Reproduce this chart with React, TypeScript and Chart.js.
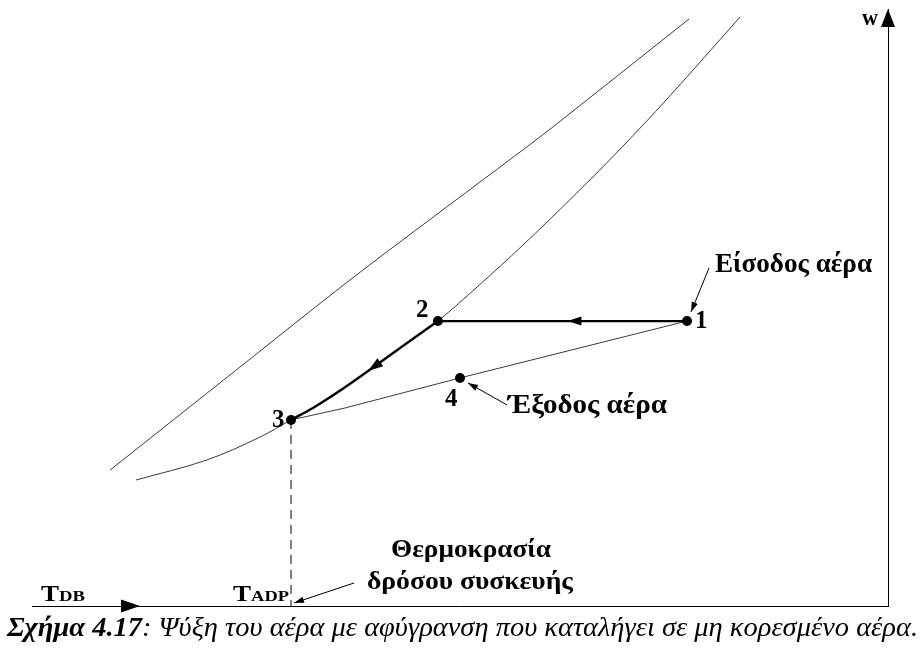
import React, { useEffect, useRef } from "react";
import { Chart, registerables } from "chart.js";

Chart.register(...registerables);

// Axis ranges (dry-bulb temperature, humidity ratio) – schematic units
const T_MIN = 0;
const T_MAX = 50;
const W_MIN = 0;
const W_MAX = 30;

// Upper (outer) thin curve
const upperCurveT = [4.56, 12.15, 18.57, 23.83, 29.67, 32.42, 38.38];
const upperCurveW = [6.83, 12.01, 16.38, 19.8, 23.57, 25.43, 29.5];

// Saturation curve (passes through states 3 and 2)
const satCurveT = [6.07, 10.22, 13.32, 15.13, 16.41, 17.87, 19.63, 21.5, 23.71, 26.05, 28.68, 31.6, 34.23, 37.15, 41.36];
const satCurveW = [6.33, 7.34, 8.49, 9.35, 9.95, 10.75, 11.81, 12.96, 14.32, 16.07, 18.14, 20.57, 22.85, 25.53, 29.6];

// State points
const stateLabels = ["1", "2", "3", "4"];
const stateT = [38.26, 23.71, 15.13, 25.0];
const stateW = [14.32, 14.32, 9.35, 11.46];

// Coil process path 3 -> 2 (drawn thick, along the saturation curve)
const coilT = [15.13, 16.41, 17.87, 19.63, 21.5, 23.71];
const coilW = [9.35, 9.95, 10.75, 11.81, 12.96, 14.32];

// Thin line 3 -> 4 -> 1
const mixT = [15.13, 18.28, 25.0, 38.26];
const mixW = [9.35, 9.95, 11.46, 14.32];

// Texts
const labelInlet = "Είσοδος αέρα";
const labelOutlet = "Έξοδος αέρα";
const labelAdp1 = "Θερμοκρασία";
const labelAdp2 = "δρόσου συσκευής";
const axisXMain = "T";
const axisXSub = "DB";
const adpMain = "T";
const adpSub = "ADP";
const axisYLabel = "w";
const captionBold = "Σχήμα 4.17";
const captionRest = ": Ψύξη του αέρα με αφύγρανση που καταλήγει σε μη κορεσμένο αέρα.";

const zip = (xs: number[], ys: number[]) => xs.map((x, i) => ({ x, y: ys[i] }));

const SERIF = '"Liberation Serif", "DejaVu Serif", serif';

function head(ctx: CanvasRenderingContext2D, tx: number, ty: number, ang: number, len: number, hw: number) {
  const c = Math.cos(ang);
  const s = Math.sin(ang);
  ctx.beginPath();
  ctx.moveTo(tx, ty);
  ctx.lineTo(tx - len * c + hw * s, ty - len * s - hw * c);
  ctx.lineTo(tx - len * c - hw * s, ty - len * s + hw * c);
  ctx.closePath();
  ctx.fill();
}

function fitText(ctx: CanvasRenderingContext2D, s: string, x: number, y: number, font: string, w?: number) {
  ctx.font = font;
  const m = ctx.measureText(s).width;
  const sx = w ? w / m : 1;
  ctx.save();
  ctx.translate(x, y);
  ctx.scale(sx, 1);
  ctx.fillText(s, 0, 0);
  ctx.restore();
}

function pointerArrow(ctx: CanvasRenderingContext2D, x1: number, y1: number, x2: number, y2: number) {
  ctx.save();
  ctx.strokeStyle = "#000";
  ctx.lineWidth = 1;
  ctx.beginPath();
  ctx.moveTo(x1, y1);
  ctx.lineTo(x2, y2);
  ctx.stroke();
  head(ctx, x2, y2, Math.atan2(y2 - y1, x2 - x1), 10, 3.2);
  ctx.restore();
}

const annotations = {
  id: "annotations",
  afterDatasetsDraw(chart: any) {
    const ctx: CanvasRenderingContext2D = chart.ctx;
    const xs = chart.scales.x;
    const ys = chart.scales.y;
    const area = chart.chartArea;
    const px = (t: number) => xs.getPixelForValue(t);
    const py = (w: number) => ys.getPixelForValue(w);
    const P = stateT.map((t, i) => ({ x: px(t), y: py(stateW[i]) }));

    ctx.save();
    ctx.fillStyle = "#000";
    ctx.textAlign = "left";
    ctx.textBaseline = "alphabetic";

    // process arrow 1 -> 2
    const f = 0.48;
    head(ctx, P[0].x + (P[1].x - P[0].x) * f, P[0].y + (P[1].y - P[0].y) * f, Math.PI, 14, 4.5);
    // process arrow 2 -> 3 along coil path
    const a = { x: px(coilT[4]), y: py(coilW[4]) };
    const b = { x: px(coilT[3]), y: py(coilW[3]) };
    head(ctx, b.x, b.y, Math.atan2(b.y - a.y, b.x - a.x), 15, 5);

    // axis arrows
    head(ctx, area.left + 108, area.bottom, 0, 19, 6.5);
    head(ctx, area.right, area.top, -Math.PI / 2, 18, 7);

    // state labels
    const bold25 = `bold 25px ${SERIF}`;
    const off = [
      [8, 7],
      [-22, -4],
      [-19, 7],
      [-15, 28],
    ];
    stateLabels.forEach((s, i) => fitText(ctx, s, P[i].x + off[i][0], P[i].y + off[i][1], bold25));

    // inlet
    pointerArrow(ctx, P[0].x + 22, P[0].y - 53, P[0].x + 4, P[0].y - 9);
    fitText(ctx, labelInlet, P[0].x + 28, P[0].y - 49, `bold 27px ${SERIF}`, 157);
    // outlet
    pointerArrow(ctx, P[3].x + 47, P[3].y + 27, P[3].x + 8, P[3].y + 5);
    fitText(ctx, labelOutlet, P[3].x + 48, P[3].y + 35, `bold 27px ${SERIF}`, 159);

    // apparatus dew point
    const adpX = P[2].x;
    pointerArrow(ctx, adpX + 63, area.bottom - 23, adpX + 3, area.bottom - 3);
    fitText(ctx, labelAdp1, 391, area.bottom - 49, `bold 26px ${SERIF}`, 160);
    fitText(ctx, labelAdp2, 367, area.bottom - 17, `bold 26px ${SERIF}`, 206);
    fitText(ctx, adpMain, adpX - 58, area.bottom - 5, `bold 23px ${SERIF}`, 18);
    fitText(ctx, adpSub, adpX - 40, area.bottom - 5, `bold 15px ${SERIF}`, 38);

    // axis labels
    fitText(ctx, axisXMain, area.left + 9, area.bottom - 5, `bold 23px ${SERIF}`, 18);
    fitText(ctx, axisXSub, area.left + 27, area.bottom - 5, `bold 15px ${SERIF}`, 26);
    fitText(ctx, axisYLabel, area.right - 26, area.top + 16, `bold 24px ${SERIF}`, 16);

    // caption
    const fb = `italic bold 28px ${SERIF}`;
    const fr = `italic 28px ${SERIF}`;
    ctx.font = fb;
    const wb = ctx.measureText(captionBold).width;
    ctx.font = fr;
    const wr = ctx.measureText(captionRest).width;
    const sx = 911 / (wb + wr);
    ctx.save();
    ctx.translate(7, area.bottom + 30);
    ctx.scale(sx, 1);
    ctx.font = fb;
    ctx.fillText(captionBold, 0, 0);
    ctx.font = fr;
    ctx.fillText(captionRest, wb, 0);
    ctx.restore();

    ctx.restore();
  },
};

export default function App() {
  const ref = useRef<HTMLCanvasElement | null>(null);

  useEffect(() => {
    if (!ref.current) return;
    const thin = {
      borderColor: "#3a3a3a",
      borderWidth: 1,
      pointRadius: 0,
      showLine: true,
      fill: false,
      tension: 0.35,
      order: 3,
    };
    const chart = new Chart(ref.current, {
      type: "scatter",
      data: {
        datasets: [
          { label: "states", data: zip(stateT, stateW), pointRadius: 5, pointBackgroundColor: "#000", pointBorderColor: "#000", pointBorderWidth: 0, showLine: false, order: 0 },
          { label: "1-2", data: [{ x: stateT[0], y: stateW[0] }, { x: stateT[1], y: stateW[1] }], borderColor: "#000", borderWidth: 2.2, pointRadius: 0, showLine: true, order: 1 },
          { label: "2-3", data: zip(coilT, coilW), borderColor: "#000", borderWidth: 2.4, pointRadius: 0, showLine: true, tension: 0.35, order: 1 },
          { label: "upper", data: zip(upperCurveT, upperCurveW), ...thin },
          { label: "saturation", data: zip(satCurveT, satCurveW), ...thin },
          { label: "3-4-1", data: zip(mixT, mixW), ...thin, tension: 0 },
          { label: "adp", data: [{ x: stateT[2], y: stateW[2] }, { x: stateT[2], y: W_MIN }], borderColor: "#000", borderWidth: 1, borderDash: [9, 6], pointRadius: 0, showLine: true, order: 3 },
        ],
      },
      options: {
        animation: false,
        responsive: false,
        devicePixelRatio: 1,
        layout: { padding: { left: 32, right: 35, top: 9, bottom: 42 } },
        plugins: { legend: { display: false }, tooltip: { enabled: false } },
        events: [],
        scales: {
          x: {
            type: "linear",
            min: T_MIN,
            max: T_MAX,
            position: "bottom",
            ticks: { display: false },
            grid: { display: false, drawTicks: false },
            border: { display: true, color: "#000", width: 1 },
            afterFit: (s: any) => { s.height = 0; },
          },
          y: {
            type: "linear",
            min: W_MIN,
            max: W_MAX,
            position: "right",
            ticks: { display: false },
            grid: { display: false, drawTicks: false },
            border: { display: true, color: "#000", width: 1 },
            afterFit: (s: any) => { s.width = 0; },
          },
        },
      },
      plugins: [annotations],
    });
    return () => chart.destroy();
  }, []);

  return (
    <div style={{ position: "fixed", left: 0, top: 0, width: 923, height: 648, background: "#fff" }}>
      <canvas ref={ref} width={923} height={648} style={{ display: "block" }} />
    </div>
  );
}
